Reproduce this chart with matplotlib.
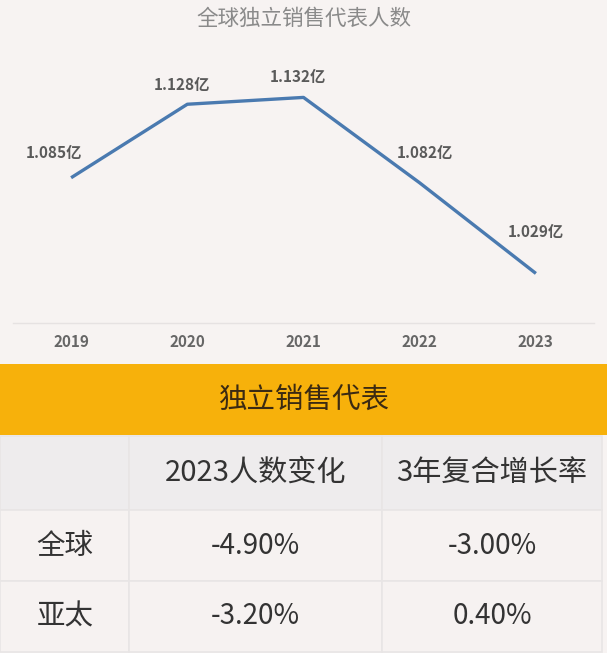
import matplotlib.pyplot as plt
from matplotlib.patches import Rectangle

plt.rcParams['font.family'] = ['Noto Sans CJK SC', 'DejaVu Sans']

# data
years = ["2019", "2020", "2021", "2022", "2023"]
reps = [1.085, 1.128, 1.132, 1.082, 1.029]
rep_labels = ["1.085亿", "1.128亿", "1.132亿", "1.082亿", "1.029亿"]
label_offsets = [(-12, 12), (-4, 8), (-4, 9), (4, 16), (0, 24)]

table_title = "独立销售代表"
col_headers = ["", "2023人数变化", "3年复合增长率"]
row_names = ["全球", "亚太"]
change_2023 = ["-4.90%", "-3.20%"]
cagr_3y = ["-3.00%", "0.40%"]

W, H = 607, 653
bg = "#f7f3f2"
fig = plt.figure(figsize=(W / 100, H / 100), dpi=100, facecolor=bg)

# background axes in pixel coords for the table part
bg_ax = fig.add_axes([0, 0, 1, 1])
bg_ax.set_xlim(0, W)
bg_ax.set_ylim(H, 0)
bg_ax.axis("off")

bg_ax.text(W / 2, 19, "全球独立销售代表人数", ha="center", va="center",
           fontsize=15.5, color="#8a8a8a", fontweight="light")

# orange band
bg_ax.add_patch(Rectangle((0, 364), W, 71, facecolor="#f7b10b", edgecolor="none"))
bg_ax.text(W / 2, 400, table_title, ha="center", va="center",
           fontsize=20.5, color="#3b2a12", fontweight="light")

# table
col_x = [0, 129, 382, 602]
row_y = [436, 510, 581, 652]
for r in range(3):
    for c in range(3):
        fc = "#eeeced" if r == 0 else "#f6f2f1"
        bg_ax.add_patch(Rectangle((col_x[c], row_y[r]), col_x[c + 1] - col_x[c],
                                  row_y[r + 1] - row_y[r], facecolor=fc,
                                  edgecolor="#e8e5e5", linewidth=1.2))

for c in range(3):
    cx = (col_x[c] + col_x[c + 1]) / 2
    bg_ax.text(cx, 473, col_headers[c], ha="center", va="center",
               fontsize=21, color="#333333", fontweight="light")

for r, name in enumerate(row_names):
    cy = (row_y[r + 1] + row_y[r + 2]) / 2
    bg_ax.text(65, cy, name, ha="center", va="center", fontsize=20.5,
               color="#333333", fontweight="light")
    bg_ax.text((col_x[1] + col_x[2]) / 2, cy, change_2023[r], ha="center",
               va="center", fontsize=20, color="#333333", fontweight="light")
    bg_ax.text((col_x[2] + col_x[3]) / 2, cy, cagr_3y[r], ha="center",
               va="center", fontsize=20, color="#333333", fontweight="light")

# line chart
y_px_base, y_px_top = 323, 40
ax = fig.add_axes([13 / W, (H - y_px_base) / H, 581 / W, (y_px_base - y_px_top) / H])
ax.set_facecolor("none")
x = range(len(years))
ax.plot(x, reps, color="#4a7ab0", linewidth=2.4, solid_capstyle="butt")
ax.set_xlim(-0.5, len(years) - 0.5)
ax.set_ylim(1.0, 1.0 + (y_px_base - y_px_top) / 1709)

for i, (v, lab) in enumerate(zip(reps, rep_labels)):
    ax.annotate(lab, (i, v), xytext=label_offsets[i], textcoords="offset points",
                ha="center", va="bottom", fontsize=11, color="#5a5a5a",
                fontweight="bold")

for s in ["top", "right", "left"]:
    ax.spines[s].set_visible(False)
ax.spines["bottom"].set_color("#e6e2e2")
ax.spines["bottom"].set_linewidth(1)
ax.set_yticks([])
ax.set_xticks(list(x))
ax.set_xticklabels(years, fontsize=11, color="#666666", fontweight="bold")
ax.tick_params(axis="x", length=0, pad=8)

fig.savefig("out.png", dpi=100, facecolor=bg)
